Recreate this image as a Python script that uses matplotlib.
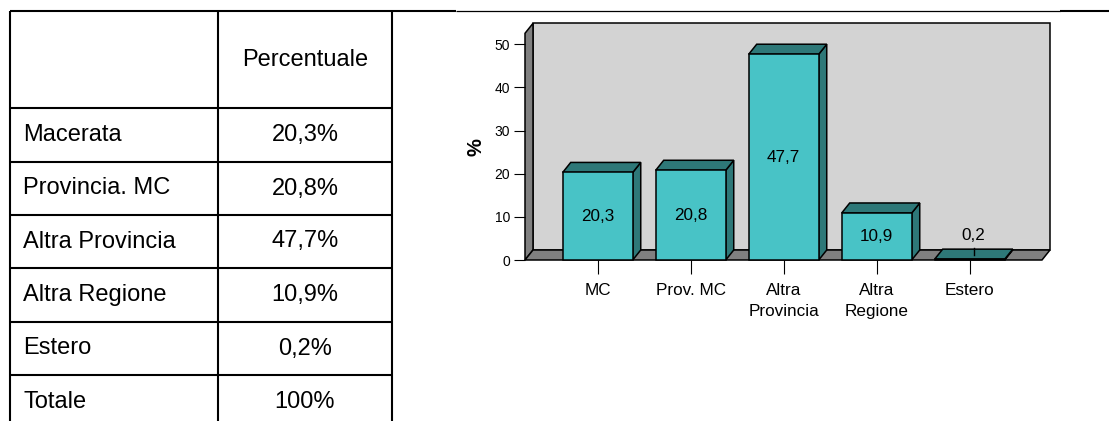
import matplotlib
matplotlib.use("Agg")
import matplotlib.pyplot as plt
from matplotlib.patches import Polygon, Rectangle
from matplotlib.lines import Line2D

# ---------------- data ----------------
categories = ["MC", "Prov. MC", "Altra\nProvincia", "Altra\nRegione", "Estero"]
values = [20.3, 20.8, 47.7, 10.9, 0.2]
value_labels = ["20,3", "20,8", "47,7", "10,9", "0,2"]
y_ticks = [0, 10, 20, 30, 40, 50]
y_label = "%"

table_header = "Percentuale"
table_rows = ["Macerata", "Provincia. MC", "Altra Provincia", "Altra Regione", "Estero", "Totale"]
table_values = ["20,3%", "20,8%", "47,7%", "10,9%", "0,2%", "100%"]

# ---------------- figure ----------------
plt.rcParams['font.family'] = ['Liberation Sans', 'DejaVu Sans']
W, H = 1109, 421
fig = plt.figure(figsize=(W / 100, H / 100), dpi=100)
fig.patch.set_facecolor("white")

# overlay axes in pixel coordinates for the table
ov = fig.add_axes([0, 0, 1, 1])
ov.set_xlim(0, W)
ov.set_ylim(H, 0)
ov.axis("off")

LW_T = 1.5
col_x = [10, 218, 392]
row_y = [11, 108, 162, 215, 268, 322, 375, 429]
for x in col_x:
    ov.add_line(Line2D([x, x], [row_y[0], H + 5], color="black", lw=LW_T, solid_capstyle="butt"))
for y in row_y[:-1]:
    ov.add_line(Line2D([col_x[0], col_x[-1]], [y, y], color="black", lw=LW_T, solid_capstyle="butt"))
# top border continuation across the chart cell
ov.add_line(Line2D([col_x[-1], 456], [11, 11], color="black", lw=LW_T, solid_capstyle="butt"))
ov.add_line(Line2D([456, 1060], [10.7, 10.7], color="black", lw=0.9, solid_capstyle="butt"))
ov.add_line(Line2D([1060, W], [11, 11], color="black", lw=LW_T, solid_capstyle="butt"))

TFS = 17
ov.text((col_x[1] + col_x[2]) / 2, (row_y[0] + row_y[1]) / 2, table_header,
        ha="center", va="center", fontsize=TFS)
for k, (lab, val) in enumerate(zip(table_rows, table_values)):
    yc = (row_y[k + 1] + row_y[k + 2]) / 2
    ov.text(col_x[0] + 13, yc, lab, ha="left", va="center", fontsize=TFS)
    ov.text((col_x[1] + col_x[2]) / 2, yc, val, ha="center", va="center", fontsize=TFS)

# ---------------- 3D-style bar chart ----------------
px_x = 93.0      # pixels per category
px_y = 4.314     # pixels per percent
left_px, right_px, bottom_px, top_px = 525, 1050, 260, 23
ax = fig.add_axes([left_px / W, 1 - bottom_px / H,
                   (right_px - left_px) / W, (bottom_px - top_px) / H])
x0 = -0.782
ax.set_xlim(x0, x0 + (right_px - left_px) / px_x)
ax.set_ylim(0, (bottom_px - top_px) / px_y)
for s in ax.spines.values():
    s.set_visible(False)
ax.patch.set_alpha(0)

dx = 8 / px_x
dy = 10 / px_y
xR = 4.777
ytop = (bottom_px - 23.3) / px_y

edge = dict(edgecolor="black", linewidth=1.1, joinstyle="miter", clip_on=False)
wall_c = "#D3D3D3"
side_c = "#808080"
front_c = "#48C3C6"
dark_c = "#2E7878"

ax.add_patch(Polygon([(x0 + dx, dy), (xR + dx, dy), (xR + dx, ytop), (x0 + dx, ytop)],
                     facecolor=wall_c, **edge))
ax.add_patch(Polygon([(x0, 0), (x0 + dx, dy), (x0 + dx, ytop), (x0, ytop - dy)],
                     facecolor=side_c, **edge))
ax.add_patch(Polygon([(x0, 0), (xR, 0), (xR + dx, dy), (x0 + dx, dy)],
                     facecolor=side_c, **edge))

bw = 0.753
for i, (v, lab) in enumerate(zip(values, value_labels)):
    l, r = i - bw / 2, i + bw / 2
    ax.add_patch(Polygon([(r, 0), (r + dx, dy), (r + dx, v + dy), (r, v)], facecolor=dark_c, **edge))
    ax.add_patch(Polygon([(l, v), (r, v), (r + dx, v + dy), (l + dx, v + dy)], facecolor=dark_c, **edge))
    ax.add_patch(Rectangle((l, 0), bw, v, facecolor=front_c, **edge))
    if v > 5:
        ax.text(i, v / 2, lab, ha="center", va="center", fontsize=12.3, color="black")
    else:
        ax.add_line(Line2D([i + dx / 2, i + dx / 2], [v + dy * 0.42, v + dy * 1.1],
                           color="black", lw=1.0, clip_on=False))
        ax.text(i + dx / 2, v + dy + 1.5, lab, ha="center", va="bottom", fontsize=12.3, color="black")

ax.set_yticks(y_ticks)
ax.set_yticklabels([str(t) for t in y_ticks])
ax.set_xticks(range(len(categories)))
ax.set_xticklabels(categories)
ax.tick_params(axis="y", length=7.9, width=0.8, pad=2.9, labelsize=10, direction="out")
ax.tick_params(axis="x", length=10, width=0.8, pad=6.5, labelsize=12.3, direction="out")
for t in ax.get_xticklabels():
    t.set_multialignment("center")
    t.set_linespacing(1.5)

fig.text(476 / W, 1 - 147 / H, y_label, rotation=90, ha="center", va="center",
         fontsize=14.5, fontweight="bold")

fig.savefig("out.png", dpi=100, facecolor="white")
